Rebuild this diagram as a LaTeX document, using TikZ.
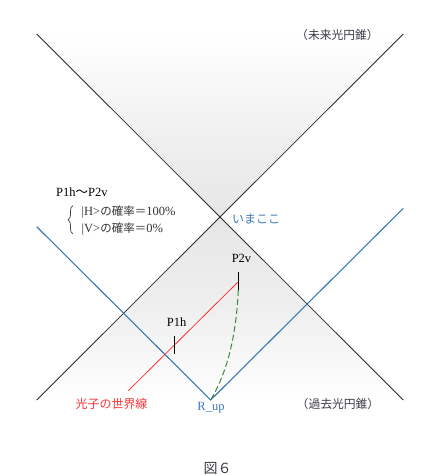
\documentclass[tikz,border=0pt]{standalone}
\usepackage{fontspec}
\setmainfont{Liberation Serif}
\newfontfamily\cjk{Noto Sans CJK JP}
\usetikzlibrary{decorations.pathreplacing}
\definecolor{conecol}{HTML}{2A2A2A}
\definecolor{wlcol}{HTML}{3A78B5}
\definecolor{photoncol}{HTML}{FF3333}
\definecolor{dkgreen}{HTML}{3C873C}
\definecolor{lblcol}{HTML}{3A3A48}
\definecolor{shadecol}{HTML}{E6E6E6}
\tikzset{
  coneline/.style={draw=conecol, line width=0.8pt},
  wline/.style={draw=wlcol, line width=1.1pt},
  photon/.style={draw=photoncol, line width=0.8pt},
  tickmark/.style={draw=black, line width=1.2pt},
  lbl/.style={inner sep=0pt, font=\fontsize{12.5}{14}\selectfont},
  conelbl/.style={inner sep=0pt, text=lblcol, font=\cjk\fontsize{11.8}{13}\selectfont},
}
\begin{document}
\begin{tikzpicture}[x=1pt,y=-1pt]
\useasboundingbox (0,0) rectangle (440,475);
\coordinate (TL) at (36.7,34);
\coordinate (TR) at (403.3,34);
\coordinate (BL) at (36.7,400);
\coordinate (BR) at (403.3,400);
\coordinate (X) at (220,217.3);
\shade[top color=white, bottom color=shadecol, middle color=white!45!shadecol] (TL) -- (TR) -- (X) -- cycle;
\shade[top color=shadecol, bottom color=white, middle color=white!35!shadecol] (X) -- (BL) -- (BR) -- cycle;
\draw[coneline] (TL) -- (BR);
\draw[coneline] (TR) -- (BL);
% world line of receiver
\coordinate (WL) at (36.7,226.7);
\coordinate (R) at (210.7,400);
\coordinate (WR) at (403.3,208.3);
\draw[wline] (WL) -- (R) -- (WR);
% photon world line
\coordinate (PS) at (128.3,390.7);
\coordinate (P2) at (238.3,281.7);
\draw[photon] (PS) -- (P2);
% ticks
\coordinate (P2t) at (238.3,272);
\coordinate (P2b) at (238.3,290);
\coordinate (P1t) at (174.3,336);
\coordinate (P1b) at (174.3,354);
\draw[tickmark] (P2t) -- (P2b);
\draw[tickmark] (P1t) -- (P1b);
% green dashed curve
\draw[dkgreen, line width=1pt, dash pattern=on 6pt off 3pt] (P2b) .. controls (236,340) and (226,374) .. (R);
% labels
\node[lbl] (p2v) at (241.5,258.3) {P2v};
\node[lbl] (p1h) at (176.7,321.7) {P1h};
\node[lbl, text=wlcol] (rup) at (211,408) {R\_up};
\node[inner sep=0pt, text=photoncol, font=\cjk\fontsize{12}{14}\selectfont] (photonlbl) at (111.5,403.5) {光子の世界線};
\node[inner sep=0pt, text=wlcol, font=\cjk\fontsize{12}{14}\selectfont] (now) at (256,219.3) {いまここ};
\node[conelbl] (future) at (337.5,35) {（未来光円錐）};
\node[conelbl] (past) at (338,404) {（過去光円錐）};
\node[inner sep=0pt, text=lblcol, font=\cjk\fontsize{14}{16}\selectfont] (fig) at (217.5,468) {図６};
% probability block
\node[lbl, anchor=west] (range) at (56,192.7) {P1h{\cjk 〜}P2v};
\node[lbl, anchor=west, text=black!80] (hprob) at (81.5,211.7) {|H>{\cjk\fontsize{11.5}{13}\selectfont の確率＝}100\%};
\node[lbl, anchor=west, text=black!80] (vprob) at (81.5,229.3) {|V>{\cjk\fontsize{11.5}{13}\selectfont の確率＝}0\%};
\coordinate (brb) at (73,234);
\coordinate (brt) at (73,205.5);
\draw[black!75, line width=0.7pt, decorate, decoration={brace, amplitude=5pt}] (brb) -- (brt);
\end{tikzpicture}
\end{document}
